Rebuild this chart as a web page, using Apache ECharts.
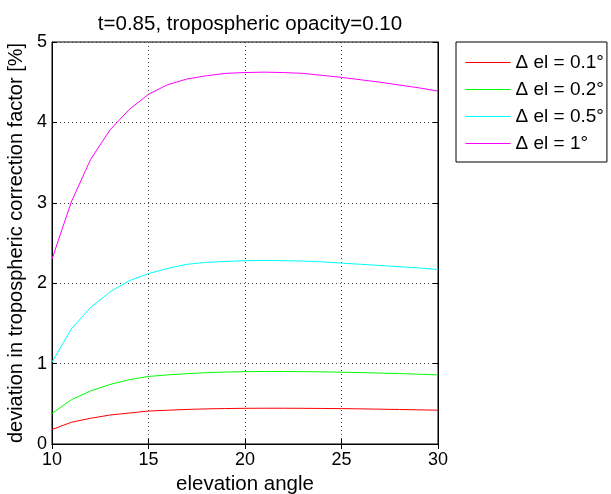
<!DOCTYPE html>
<html><head><meta charset="utf-8">
<script src="https://cdn.jsdelivr.net/npm/echarts@6/dist/echarts.min.js"></script>
<style>html,body{margin:0;padding:0;background:#fff}#c{width:611px;height:494px}</style>
</head><body><div id="c"></div>
<script>
const elev = [10,11,12,13,14,15,16,17,18,19,20,21,22,23,24,25,26,27,28,29,30];
const dEl01 = [0.18,0.27,0.32,0.36,0.385,0.41,0.42,0.43,0.437,0.441,0.444,0.445,0.445,0.444,0.442,0.44,0.437,0.433,0.429,0.425,0.42];
const dEl02 = [0.38,0.55,0.66,0.74,0.80,0.84,0.86,0.875,0.887,0.895,0.90,0.902,0.902,0.90,0.897,0.893,0.888,0.882,0.876,0.868,0.86];
const dEl05 = [1.02,1.43,1.70,1.89,2.03,2.12,2.185,2.235,2.26,2.27,2.28,2.283,2.28,2.275,2.265,2.25,2.235,2.22,2.205,2.19,2.17];
const dEl1  = [2.30,3.01,3.54,3.905,4.16,4.35,4.47,4.54,4.58,4.61,4.62,4.625,4.62,4.61,4.585,4.56,4.53,4.50,4.465,4.43,4.39];
const names = ['\u0394 el = 0.1\u00b0','\u0394 el = 0.2\u00b0','\u0394 el = 0.5\u00b0','\u0394 el = 1\u00b0'];
const colors = ['#ff0000','#00ff00','#00ffff','#ff00ff'];
const seriesData = [dEl01,dEl02,dEl05,dEl1];
const FONT = '"Liberation Sans", Arial, sans-serif';
const chart = echarts.init(document.getElementById('c'), null, {renderer:'canvas'});
const grid = {left:52, right:173, top:42, bottom:50, show:true, borderColor:'#000', borderWidth:1,
  backgroundColor:'#fff', containLabel:false, outerBoundsMode:'none'};
const splitLine = {show:true, lineStyle:{color:'#444', type:[1,3], width:1}};
chart.setOption({
  animation:false,
  textStyle:{fontFamily:FONT},
  title:{text:'t=0.85, tropospheric opacity=0.10', left:245, top:9, textAlign:'center',
    textStyle:{fontFamily:FONT, fontSize:20.5, fontWeight:'normal', color:'#000'}},
  grid: grid,
  legend:{orient:'vertical', left:456, top:42, data:names, itemWidth:45, itemHeight:14,
    itemGap:8, padding:[11,3,9,9], borderColor:'#000', borderWidth:1, backgroundColor:'#fff',
    itemStyle:{opacity:0}, lineStyle:{width:1},
    textStyle:{fontFamily:FONT, fontSize:19, color:'#000', lineHeight:19}},
  xAxis:[{type:'value', min:10, max:30, interval:5, position:'bottom',
    name:'elevation angle', nameLocation:'middle', nameGap:29,
    nameTextStyle:{fontFamily:FONT, fontSize:20.5, color:'#000'},
    axisLine:{show:true, lineStyle:{color:'#000'}}, axisTick:{show:true, inside:true, length:5, lineStyle:{color:'#000'}},
    axisLabel:{fontFamily:FONT, fontSize:18, color:'#000', margin:7}, splitLine:splitLine},
    {type:'value', min:10, max:30, interval:5, position:'top', axisLine:{show:true, lineStyle:{color:'#000'}},
    axisTick:{show:true, inside:true, length:5, lineStyle:{color:'#000'}}, axisLabel:{show:false}, splitLine:{show:false}}],
  yAxis:[{type:'value', min:0, max:5, interval:1, position:'left',
    name:'deviation in tropospheric correction factor [%]', nameLocation:'middle', nameGap:22,
    nameTextStyle:{fontFamily:FONT, fontSize:20, color:'#000'},
    axisLine:{show:true, lineStyle:{color:'#000'}}, axisTick:{show:true, inside:true, length:5, lineStyle:{color:'#000'}},
    axisLabel:{fontFamily:FONT, fontSize:18, color:'#000', margin:5}, splitLine:splitLine},
    {type:'value', min:0, max:5, interval:1, position:'right', axisLine:{show:true, lineStyle:{color:'#000'}},
    axisTick:{show:true, inside:true, length:5, lineStyle:{color:'#000'}}, axisLabel:{show:false}, splitLine:{show:false}}],
  series: seriesData.map((d,i)=>({
    name:names[i], type:'line', symbol:'none', color:colors[i],
    lineStyle:{width:1, color:colors[i]}, itemStyle:{color:colors[i]},
    data: elev.map((x,j)=>[x,d[j]])
  }))
});
</script></body></html>
